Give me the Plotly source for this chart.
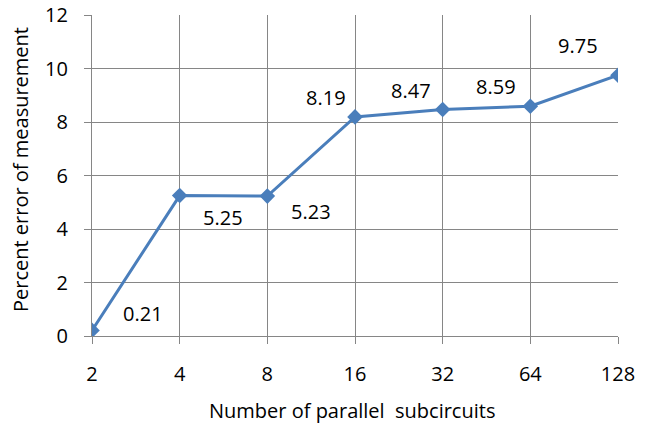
import plotly.graph_objects as go

categories = ["2", "4", "8", "16", "32", "64", "128"]
values = [0.21, 5.25, 5.23, 8.19, 8.47, 8.59, 9.75]
y_ticks = [0, 2, 4, 6, 8, 10, 12]

x_title = "Number of parallel  subcircuits"
y_title = "Percent error of measurement"

# label offsets (pixels) relative to each point
label_dx = [51, 43, 44, -29, -32, -34, -40]
label_dy = [17, -22, -15, 19, 19, 20, 30]

FONT = "Open Sans"
GRID = "#868686"
LINE = "#4A7EBB"
W, H = 653, 426
PAGE_OFF = 8  # browser body margin
# plot area in page pixels
PL, PR, PT, PB = 92, 618, 15, 336
ML, MT = PL - PAGE_OFF, PT - PAGE_OFF
MR = W - (PR - PAGE_OFF)
MB = H - (PB - PAGE_OFF)
PW, PH = PR - PL, PB - PT

fig = go.Figure()
fig.add_trace(go.Scatter(
    x=categories, y=values, mode="lines+markers",
    line=dict(color=LINE, width=3),
    marker=dict(symbol="diamond", size=12, color=LINE),
    showlegend=False, hoverinfo="skip",
))

for i, (v, dx, dy) in enumerate(zip(values, label_dx, label_dy)):
    fig.add_annotation(x=i, y=v, xref="x", yref="y", text=f"{v:.2f}", showarrow=False,
                       xshift=dx, yshift=dy,
                       font=dict(family=FONT, size=20, color="#000000"))

# axis titles (page pixel centres converted to paper coords)
fig.add_annotation(text=x_title, xref="paper", yref="paper",
                   x=(352 - PL) / PW, y=(PB - 410) / PH,
                   showarrow=False, xanchor="center", yanchor="middle",
                   font=dict(family=FONT, size=20, color="#000000"))
fig.add_annotation(text=y_title, xref="paper", yref="paper",
                   x=(20 - PL) / PW, y=(PB - 170) / PH,
                   showarrow=False, textangle=-90, xanchor="center", yanchor="middle",
                   font=dict(family=FONT, size=20, color="#000000"))

fig.update_layout(
    width=W, height=H,
    margin=dict(l=ML, r=MR, t=MT, b=MB, autoexpand=False),
    paper_bgcolor="white", plot_bgcolor="white",
    font=dict(family=FONT, color="#000000"),
)
fig.update_xaxes(
    type="category", range=[0, 6], automargin=False,
    showgrid=True, gridcolor=GRID, gridwidth=1.3,
    showline=True, linecolor=GRID, linewidth=1.3,
    ticks="outside", ticklen=7, tickcolor=GRID, tickwidth=1.3,
    ticklabelstandoff=13, ticklabeloverflow="allow",
    tickfont=dict(family=FONT, size=20, color="#000000"),
    zeroline=False,
)
fig.update_yaxes(
    range=[0, 12], tickvals=y_ticks, automargin=False,
    showgrid=True, gridcolor=GRID, gridwidth=1.3,
    showline=True, linecolor=GRID, linewidth=1.3,
    ticks="outside", ticklen=7, tickcolor=GRID, tickwidth=1.3,
    ticklabelstandoff=12, ticklabeloverflow="allow",
    tickfont=dict(family=FONT, size=20, color="#000000"),
    zeroline=False,
)

fig.write_html("out.html")
